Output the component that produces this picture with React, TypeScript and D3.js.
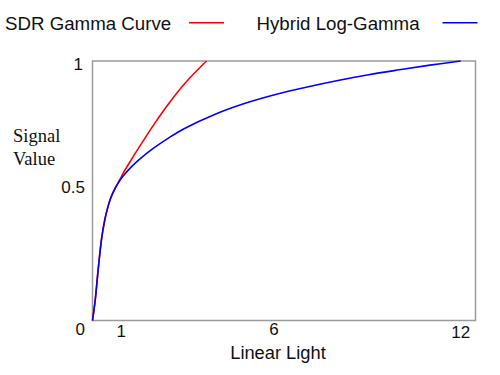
import React from "react";
import * as d3 from "d3";

// Data
const hlgX = [0, 0.09, 0.18, 0.29, 0.4, 0.5, 0.6, 0.75, 0.9, 1.0, 1.25, 1.5, 2.0, 2.5, 3.0, 4.0, 5.0, 6.0, 7.0, 8.0, 9.0, 10.0, 11.0, 12.0];
const hlgY = [0, 0.08, 0.19, 0.31, 0.388, 0.437, 0.474, 0.512, 0.541, 0.557, 0.59, 0.618, 0.665, 0.705, 0.74, 0.795, 0.838, 0.872, 0.9, 0.925, 0.947, 0.966, 0.984, 1.0];

const sdrX = [0, 0.09, 0.18, 0.29, 0.4, 0.5, 0.6, 0.75, 0.9, 1.0, 1.25, 1.5, 2.0, 2.5, 3.0, 3.5, 3.72];
const sdrY = [0, 0.08, 0.19, 0.31, 0.388, 0.437, 0.474, 0.513, 0.545, 0.568, 0.617, 0.664, 0.755, 0.838, 0.912, 0.975, 1.0];

const xTicks = [1, 6, 12];
const xTickLabels = ["1", "6", "12"];
const yTicks = [0, 0.5, 1];
const yTickLabels = ["0", "0.5", "1"];

const seriesNames = ["SDR Gamma Curve", "Hybrid Log-Gamma"];
const seriesColors = ["#ff0000", "#0000ff"];

const xTitle = "Linear Light";
const yTitleLines = ["Signal", "Value"];

export default function App() {
  const W = 500;
  const H = 375;
  const left = 92.5;
  const right = 475.5;
  const top = 61;
  const bottom = 320.5;

  const x = d3.scaleLinear().domain([0, 12]).range([left, 460.7]);
  const y = d3.scaleLinear().domain([0, 1]).range([bottom, top]);

  const line = d3
    .line<[number, number]>()
    .x((d) => x(d[0]))
    .y((d) => y(d[1]))
    .curve(d3.curveCatmullRom.alpha(0.5));

  const sdr: [number, number][] = sdrX.map((v, i) => [v, sdrY[i]]);
  const hlg: [number, number][] = hlgX.map((v, i) => [v, hlgY[i]]);

  const sans = "'Liberation Sans', Arial, sans-serif";
  const serif = "'Liberation Serif', 'Times New Roman', serif";

  // small label baseline offsets to match reference placement
  const yLabelDy: Record<string, number> = { "0": 14.5, "0.5": 2.5, "1": 9 };
  const xLabelBase: Record<string, number> = { "1": 336.7, "6": 335, "12": 338 };
  const xLabelDx: Record<string, number> = { "1": -2, "6": -2.5, "12": 0 };

  return (
    <svg width={W} height={H} style={{ position: "absolute", left: 0, top: 0, background: "#fff" }}>
      <rect x={0} y={0} width={W} height={H} fill="#fff" />
      {/* legend */}
      <text x={5} y={29.5} fontFamily={sans} fontSize={18.7} fill="#111">
        {seriesNames[0]}
      </text>
      <line x1={189} x2={224} y1={22.7} y2={22.7} stroke={seriesColors[0]} strokeWidth={1.6} />
      <text x={256.5} y={29.5} fontFamily={sans} fontSize={18.7} fill="#111">
        {seriesNames[1]}
      </text>
      <line x1={442.5} x2={477.5} y1={22.7} y2={22.7} stroke={seriesColors[1]} strokeWidth={1.6} />

      {/* frame */}
      <rect
        x={left}
        y={top}
        width={right - left}
        height={bottom - top}
        fill="none"
        stroke="#9a9a9a"
        strokeWidth={1.5}
      />

      {/* curves */}
      <path d={line(sdr) || ""} fill="none" stroke={seriesColors[0]} strokeWidth={1.6} />
      <path d={line(hlg) || ""} fill="none" stroke={seriesColors[1]} strokeWidth={1.6} />

      {/* y tick labels */}
      {yTicks.map((v, i) => (
        <text
          key={"y" + i}
          x={v === 1 ? 83 : 85}
          y={y(v) + yLabelDy[yTickLabels[i]]}
          textAnchor="end"
          fontFamily={sans}
          fontSize={17}
          fill="#111"
        >
          {yTickLabels[i]}
        </text>
      ))}

      {/* x tick labels */}
      {xTicks.map((v, i) => (
        <text
          key={"x" + i}
          x={x(v) + xLabelDx[xTickLabels[i]]}
          y={xLabelBase[xTickLabels[i]]}
          textAnchor="middle"
          fontFamily={sans}
          fontSize={17}
          fill="#111"
        >
          {xTickLabels[i]}
        </text>
      ))}

      {/* axis titles */}
      <text x={278} y={358.5} textAnchor="middle" fontFamily={sans} fontSize={18.3} fill="#111">
        {xTitle}
      </text>
      {yTitleLines.map((t, i) => (
        <text key={t} x={13} y={141.5 + i * 23.5} fontFamily={serif} fontSize={18.5} fill="#111">
          {t}
        </text>
      ))}
    </svg>
  );
}
